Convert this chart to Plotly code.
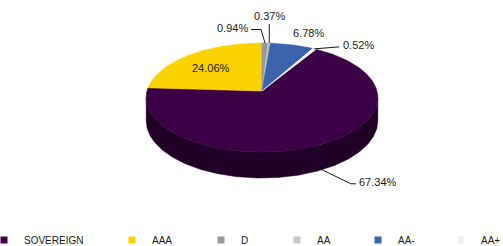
import numpy as np
import plotly.graph_objects as go

# ---------------- data ----------------
categories = ["SOVEREIGN", "AAA", "D", "AA", "AA-", "AA+"]
shares = [67.34, 24.06, 0.94, 0.37, 6.78, 0.52]
value_labels = ["67.34%", "24.06%", "0.94%", "0.37%", "6.78%", "0.52%"]

# ---------------- style ----------------
colors = ["#3c0047", "#fad200", "#979797", "#c6c6c6", "#3b63ac", "#f0f0f0"]
W, H = 503, 246
CX, CY = 262.0, 91.0        # apex of the pie (px)
RX, RY = 115.0, 53.7        # radii of the tilted disc
PERSP = 0.119               # perspective strength
DEPTH = 23.0                # thickness of the disc
FONT = "Liberation Sans"

# label placement (anchor on the edge of the slice, leader path offsets, text offset)
label_style = {
    "SOVEREIGN": dict(kind="bottom", path=[(29, 14), (34, 14)], off=(35, 12), xa="left", ya="middle"),
    "AAA": dict(kind="inside", r=0.7, off=(1, 3), xa="center", ya="middle"),
    "D": dict(kind="top", path=[(-4, -13.5), (-14, -13.5)], off=(-15, -15), xa="right", ya="middle"),
    "AA": dict(kind="top", path=[(0, -19)], off=(0, -19), xa="center", ya="bottom"),
    "AA-": dict(kind="top", path=[], off=(16, -12), xa="center", ya="middle"),
    "AA+": dict(kind="top", path=[(25, -2)], off=(27, -3.5), xa="left", ya="middle"),
}


def proj(theta_deg, r=1.0):
    t = np.radians(theta_deg)
    u = r * np.sin(t)
    v = -r * np.cos(t)
    d = 1 - PERSP * v
    return CX + RX * u / d, CY + RY * v / d, d


def darken(hexc, f=0.55):
    h = hexc.lstrip("#")
    r, g, b = (int(h[i:i + 2], 16) for i in (0, 2, 4))
    return "#%02x%02x%02x" % (int(r * f), int(g * f), int(b * f))


total = sum(shares)
# rotation: the third category starts at 12 o'clock
start = 360.0 * (1 - (shares[0] + shares[1]) / total)
bounds = []
a = start
for s in shares:
    span = 360.0 * s / total
    bounds.append((a, a + span))
    a += span

# silhouette of the disc (left/right extremes)
ts = np.linspace(0, 360, 3601)
xs, _, _ = proj(ts)
t_right = ts[np.argmax(xs)]
t_left = ts[np.argmin(xs)]

fig = go.Figure()

# side walls
for cat, col, (a0, a1) in zip(categories, colors, bounds):
    for shift in (0, 360, -360):
        lo = max(a0 + shift, t_right)
        hi = min(a1 + shift, t_left)
        if hi > lo:
            th = np.linspace(lo, hi, 200)
            x, y, d = proj(th)
            yb = y + DEPTH / d
            px = np.concatenate([x, x[::-1], x[:1]])
            py = np.concatenate([y, yb[::-1], y[:1]])
            fig.add_trace(go.Scatter(x=px, y=py, mode="lines", fill="toself",
                                     fillcolor=darken(col), line=dict(width=0.5, color=darken(col)),
                                     hoverinfo="skip", showlegend=False))

# top faces
for cat, col, (a0, a1) in zip(categories, colors, bounds):
    th = np.linspace(a0, a1, max(4, int((a1 - a0) * 2)))
    x, y, _ = proj(th)
    px = np.concatenate([[CX], x, [CX]])
    py = np.concatenate([[CY], y, [CY]])
    fig.add_trace(go.Scatter(x=px, y=py, mode="lines", fill="toself",
                             fillcolor=col, line=dict(width=0.6, color=col),
                             hoverinfo="skip", showlegend=False))

# labels and leader lines
annotations = []
for cat, txt, (a0, a1) in zip(categories, value_labels, bounds):
    st = label_style[cat]
    mid = (a0 + a1) / 2
    if st["kind"] == "inside":
        ax_, ay_, _ = proj(mid, st["r"])
    else:
        ax_, ay_, d = proj(mid)
        if st["kind"] == "bottom":
            ay_ = ay_ + DEPTH / d
    if st.get("path"):
        lx = [ax_] + [ax_ + dx for dx, dy in st["path"]]
        ly = [ay_] + [ay_ + dy for dx, dy in st["path"]]
        fig.add_trace(go.Scatter(x=lx, y=ly, mode="lines", line=dict(color="#000000", width=0.9),
                                 hoverinfo="skip", showlegend=False))
    annotations.append(dict(x=ax_ + st["off"][0], y=ay_ + st["off"][1], xref="x", yref="y",
                            text=txt, showarrow=False, xanchor=st["xa"], yanchor=st["ya"],
                            font=dict(family=FONT, size=11, color="#1a1a1a")))

# legend: one legend per entry, placed along the bottom
legend_text_x = [24, 152, 241, 317, 398, 481]
layout_legends = {}
for i, (cat, col) in enumerate(zip(categories, colors)):
    key = "legend" if i == 0 else "legend%d" % (i + 1)
    fig.add_trace(go.Scatter(x=[None], y=[None], mode="markers", name=cat,
                             marker=dict(symbol="square", size=7, color=col,
                                         line=dict(width=0)),
                             legend=key, showlegend=True))
    layout_legends[key] = dict(x=(legend_text_x[i] - 40) / W, xanchor="left",
                               y=(H - 240) / H, yanchor="middle",
                               orientation="h", bgcolor="rgba(0,0,0,0)",
                               font=dict(family=FONT, size=10, color="#1a1a1a"))

fig.update_layout(
    width=W, height=H,
    margin=dict(l=0, r=0, t=0, b=0, autoexpand=False),
    paper_bgcolor="white", plot_bgcolor="white",
    xaxis=dict(range=[0, W], visible=False, fixedrange=True),
    yaxis=dict(range=[H, 0], visible=False, fixedrange=True),
    annotations=annotations,
    showlegend=True,
    **layout_legends,
)

fig.write_html("out.html", config={"displayModeBar": False},
               post_script="document.body.style.margin='0';document.body.style.overflow='hidden';")
